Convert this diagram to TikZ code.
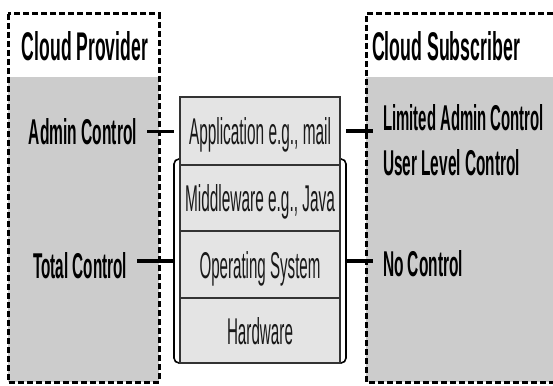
\documentclass[tikz,border=0pt]{standalone}
\usepackage{fontspec}
\setmainfont{Liberation Sans}
\usepackage{graphicx}
\newcommand\fitbox[3]{\resizebox{#1pt}{#2pt}{#3}}
\definecolor{regiongray}{HTML}{CCCCCC}
\definecolor{layergray}{HTML}{E4E4E4}
\definecolor{layerline}{HTML}{333333}
\begin{document}
\begin{tikzpicture}[x=1pt,y=-1pt,
  every node/.style={inner sep=0pt, outer sep=0pt},
  titletext/.style={font=\bfseries, text=black, anchor=base},
  lbl/.style={font=\bfseries, text=black, anchor=base},
  layer/.style={draw=layerline, line width=1.5pt, fill=layergray, minimum width=160pt,
     text=black!90, text depth=0pt},
  bracketbox/.style={draw=black, line width=1.6pt, rounded corners=5pt, fill=white},
  dashbox/.style={draw=black, line width=3pt, dash pattern=on 6pt off 3pt},
  conn/.style={draw=black, line width=3.2pt}
]
\useasboundingbox (0,0) rectangle (553,385);
% regions
\fill[regiongray] (8,77) rectangle (159,382);
\fill[regiongray] (366,77) rectangle (553,382);
\draw[dashbox] (8,14) rectangle (159,382);
\draw[dashbox] (553,14) -- (366,14) -- (366,382) -- (553,382);
% titles
\node[titletext] (prov) at (85,61) {\fitbox{126}{29}{Cloud Provider}};
\node[titletext] (subs) at (446,61) {\fitbox{148}{29}{Cloud Subscriber}};
% stack
\node[bracketbox, minimum width=172pt, minimum height=204pt] (bracket) at (260,261) {};
\node[layer, minimum height=68pt] (app) at (260,131) {\fitbox{142}{27}{Application e.g., mail}};
\node[layer, minimum height=66pt] (mid) at (260,198) {\fitbox{150}{27}{Middleware e.g., Java}};
\node[layer, minimum height=67pt] (os) at (260,264.5) {\fitbox{121}{27}{Operating System}};
\node[layer, minimum height=65pt] (hw) at (260,330.5) {\fitbox{66}{27}{Hardware}};
% labels
\node[lbl] (admin) at (83,144) {\fitbox{108}{26}{Admin Control}};
\node[lbl] (total) at (80,278) {\fitbox{94}{26}{Total Control}};
\node[lbl, anchor=base west] (limited) at (383,130) {\fitbox{161}{26}{Limited Admin Control}};
\node[lbl, anchor=base west] (user) at (383,175) {\fitbox{137}{26}{User Level Control}};
\node[lbl, anchor=base west] (nocontrol) at (383,276) {\fitbox{80}{26}{No Control}};
% connectors
\draw[conn] ([xshift=10pt]admin.east) -- (admin.east -| bracket.west);
\draw[conn] ([xshift=10pt]total.east |- bracket.west) -- (bracket.west);
\draw[conn] (app.east -| bracket.east) -- ([xshift=-10pt]limited.west |- app.east);
\draw[conn] (bracket.east) -- ([xshift=-10pt]nocontrol.west |- bracket.east);
\end{tikzpicture}
\end{document}
